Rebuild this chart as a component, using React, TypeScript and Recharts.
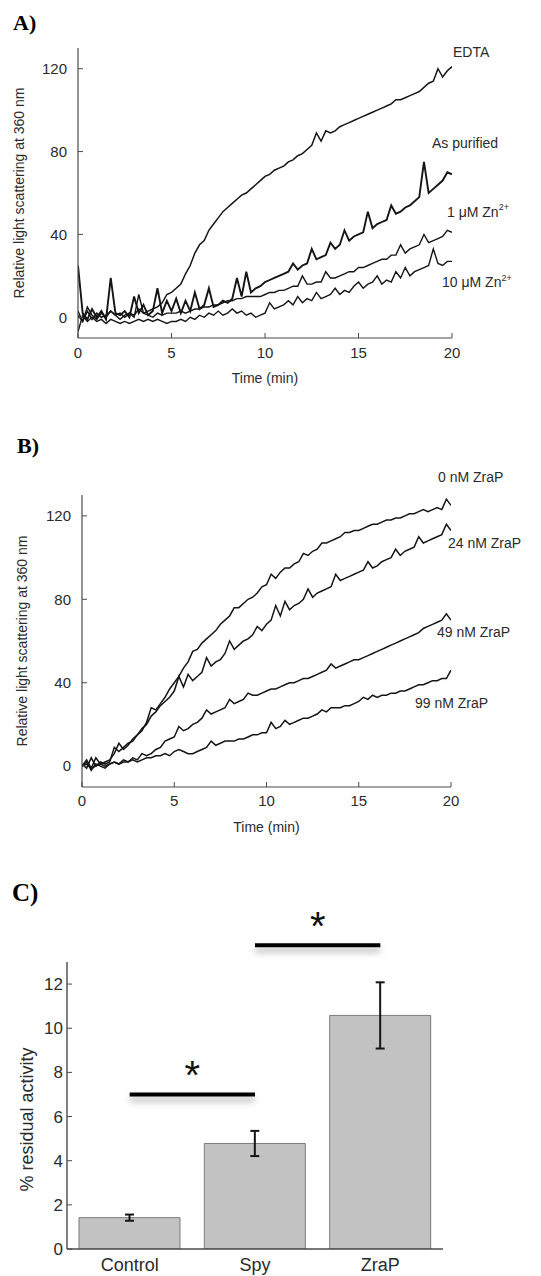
import React from "react";
import {
  LineChart,
  Line,
  XAxis,
  YAxis,
  BarChart,
  Bar,
  ErrorBar,
  ReferenceLine,
  ReferenceDot,
} from "recharts";

const FONT = "'Liberation Sans', Arial, Helvetica, sans-serif";
const SERIF = "'Liberation Serif', 'Times New Roman', serif";
const INK = "#151515";
const AXIS = "#4a4a4a";
const TEXT = "#2b2b2b";

// time axis shared by panels A and B (minutes)
const TIMES = [
  0, 0.25, 0.5, 0.75, 1, 1.25, 1.5, 1.75, 2, 2.25,
  2.5, 2.75, 3, 3.25, 3.5, 3.75, 4, 4.25, 4.5, 4.75,
  5, 5.25, 5.5, 5.75, 6, 6.25, 6.5, 6.75, 7, 7.25,
  7.5, 7.75, 8, 8.25, 8.5, 8.75, 9, 9.25, 9.5, 9.75,
  10, 10.25, 10.5, 10.75, 11, 11.25, 11.5, 11.75, 12, 12.25,
  12.5, 12.75, 13, 13.25, 13.5, 13.75, 14, 14.25, 14.5, 14.75,
  15, 15.25, 15.5, 15.75, 16, 16.25, 16.5, 16.75, 17, 17.25,
  17.5, 17.75, 18, 18.25, 18.5, 18.75, 19, 19.25, 19.5, 19.75,
  20,
];

// panel A
const EDTA = [
  1, -2, 3, -1, 2, 0, 1, 3, 1, 2,
  0, 2, 1, 4, 2, 3, 4, 5, 7, 11,
  12, 14, 16, 21, 25, 31, 35, 37, 42, 45,
  48, 51, 53, 55, 57, 59, 60, 62, 64, 66,
  68, 69, 71, 72, 73, 75, 76, 78, 79, 81,
  83, 89, 85, 90, 89, 90, 92, 93, 94, 95,
  96, 97, 98, 99, 100, 101, 102, 103, 105, 105,
  106, 107, 108, 109, 111, 113, 114, 120, 116, 119,
  121,
];
const AS_PURIFIED = [
  25, 2, -1, 4, 0, 3, -1, 19, 2, 1,
  3, 0, 10, 2, 6, 1, 3, 14, 2, 8,
  3, 9, 2, 8, 3, 12, 4, 6, 14, 5,
  6, 8, 7, 9, 19, 10, 22, 12, 14, 15,
  17, 18, 19, 20, 21, 22, 26, 23, 25, 26,
  33, 28, 29, 30, 36, 33, 35, 42, 37, 39,
  40, 41, 51, 43, 45, 46, 47, 54, 50, 51,
  53, 54, 56, 58, 75, 60, 62, 64, 66, 70,
  69,
];
const ZN_1UM = [
  3, -2, 5, 1, -1, 2, 0, 3, 1, -1,
  1, 2, 0, 11, 2, 1, 0, 2, 1, 2,
  2, 2, 3, 2, 3, 4, 4, 5, 5, 6,
  6, 7, 8, 8, 9, 9, 10, 10, 10, 10,
  11, 12, 12, 13, 13, 14, 15, 15, 20, 16,
  16, 17, 17, 22, 19, 19, 20, 21, 22, 22,
  24, 24, 25, 26, 27, 28, 28, 30, 30, 35,
  31, 33, 34, 35, 40, 36, 37, 38, 39, 42,
  41,
];
const ZN_10UM = [
  -7, 1, -2, 0, -2, -1, -3, -1, -2, -3,
  -2, -3, -2, -1, -2, -1, -2, -1, -2, -3,
  -2, -2, -1, -2, 0, -1, 1, 0, 2, 1,
  3, 1, 2, 4, 2, 3, 1, 2, 0, 1,
  2, 7, 4, 5, 6, 8, 6, 10, 7, 9,
  8, 12, 9, 10, 11, 14, 11, 13, 12, 15,
  17, 14, 16, 17, 20, 16, 18, 17, 22, 19,
  24, 20, 22, 23, 24, 25, 33, 26, 25, 27,
  27,
];

// panel B
const ZRAP_0 = [
  0, 3, -1, 4, 1, 2, 3, 6, 11, 8,
  10, 13, 15, 17, 21, 28, 27, 30, 33, 37,
  40, 43, 47, 50, 55, 56, 59, 61, 63, 65,
  68, 70, 72, 76, 76, 78, 80, 81, 83, 86,
  87, 92, 90, 93, 95, 95, 97, 98, 102, 101,
  103, 104, 107, 107, 108, 109, 110, 112, 112, 113,
  113, 114, 115, 116, 116, 117, 118, 118, 119, 119,
  120, 121, 121, 122, 123, 122, 123, 124, 123, 128,
  125,
];
const ZRAP_24 = [
  1, -1, 4, 0, 2, 1, 2, 9, 7, 9,
  11, 12, 15, 18, 20, 24, 26, 29, 31, 33,
  36, 43, 38, 44, 41, 43, 45, 52, 48, 50,
  51, 54, 60, 56, 58, 60, 61, 63, 67, 65,
  68, 70, 77, 72, 79, 75, 77, 78, 80, 85,
  81, 83, 84, 85, 86, 92, 89, 90, 91, 92,
  93, 94, 98, 95, 96, 98, 99, 100, 104, 101,
  103, 104, 105, 110, 107, 108, 109, 110, 111, 116,
  113,
];
const ZRAP_49 = [
  0, 2, -2, 1, 0, -1, 1, 2, 1, 3,
  2, 4, 3, 6, 5, 6, 8, 9, 12, 13,
  14, 19, 17, 18, 20, 21, 23, 27, 25, 26,
  27, 28, 32, 30, 31, 32, 35, 34, 34, 35,
  36, 37, 37, 38, 39, 40, 40, 41, 42, 42,
  43, 44, 45, 46, 49, 47, 48, 49, 50, 51,
  51, 52, 53, 54, 55, 56, 57, 58, 59, 60,
  61, 62, 63, 64, 66, 67, 68, 69, 70, 73,
  70,
];
const ZRAP_99 = [
  0, 1, -1, 0, 1, 0, 1, 2, 1, 2,
  2, 3, 2, 3, 4, 4, 5, 5, 6, 5,
  7, 8, 7, 6, 6, 7, 8, 9, 12, 10,
  11, 12, 12, 12, 13, 13, 14, 15, 15, 16,
  16, 21, 18, 19, 22, 20, 21, 22, 23, 23,
  24, 25, 27, 26, 28, 28, 28, 29, 29, 30,
  31, 33, 32, 34, 33, 34, 34, 35, 35, 36,
  36, 37, 38, 39, 39, 40, 41, 41, 42, 42,
  46,
];

const TIME_TICKS = [0, 5, 10, 15, 20];
const SCATTER_TICKS = [0, 40, 80, 120];

// panel C
const SAMPLES = ["Control", "Spy", "ZraP"];
const ACTIVITY = [1.42, 4.78, 10.58];
const ACTIVITY_ERR = [0.14, 0.57, 1.5];
const ACTIVITY_TICKS = [0, 2, 4, 6, 8, 10, 12];
const SIG_LEVELS = [7.0, 13.76];

const rowsA = TIMES.map((t, i) => ({
  t,
  edta: EDTA[i],
  purified: AS_PURIFIED[i],
  zn1: ZN_1UM[i],
  zn10: ZN_10UM[i],
}));
const rowsB = TIMES.map((t, i) => ({
  t,
  z0: ZRAP_0[i],
  z24: ZRAP_24[i],
  z49: ZRAP_49[i],
  z99: ZRAP_99[i],
}));
const rowsC = SAMPLES.map((name, i) => ({ name, v: ACTIVITY[i], err: ACTIVITY_ERR[i] }));

function seriesTag(name: string, sup: string, dx: number) {
  return function Tag(props: any) {
    const vb = props.viewBox || {};
    const x = (vb.x || 0) + (vb.width || 0) / 2 + dx;
    const y = (vb.y || 0) + (vb.height || 0) / 2;
    return (
      <text x={x} y={y} dy="0.35em" fontSize={14} fill={TEXT} fontFamily={FONT}>
        {name}
        {sup ? (
          <tspan fontSize={9} dy="-0.7em">
            {sup}
          </tspan>
        ) : null}
      </text>
    );
  };
}

const tickStyle = { fontSize: 15, fill: TEXT, fontFamily: FONT };
const titleStyle = { fontSize: 14, fill: TEXT, fontFamily: FONT };
const sigShadow = { filter: "drop-shadow(0px 5px 3px rgba(0,0,0,0.3))" };

function PanelLetter({ text, top, left, size }: { text: string; top: number; left: number; size: number }) {
  return (
    <div
      style={{
        position: "absolute",
        top,
        left,
        fontFamily: SERIF,
        fontWeight: "bold",
        fontSize: size,
        lineHeight: 1,
        color: "#000",
      }}
    >
      {text}
    </div>
  );
}

export default function App() {
  return (
    <div
      style={{
        position: "absolute",
        left: 0,
        top: 0,
        width: 541,
        height: 1276,
        background: "#fff",
        fontFamily: FONT,
        overflow: "hidden",
      }}
    >
      <PanelLetter text="A)" top={12} left={13} size={22} />
      <PanelLetter text="B)" top={435} left={17} size={22} />
      <PanelLetter text="C)" top={880} left={12} size={25} />

      {/* A: aggregation with zinc */}
      <div style={{ position: "absolute", left: 0, top: 0 }}>
        <LineChart width={541} height={400} data={rowsA} margin={{ top: 48, right: 89, bottom: 0, left: 0 }}>
          <XAxis
            dataKey="t"
            type="number"
            domain={[0, 20]}
            ticks={TIME_TICKS}
            allowDataOverflow
            height={62}
            tickSize={-5}
            tickMargin={14}
            tick={tickStyle}
            axisLine={{ stroke: AXIS, strokeWidth: 1.2 }}
            tickLine={{ stroke: AXIS }}
            label={{ value: "Time (min)", position: "insideBottom", offset: 17, ...titleStyle }}
          />
          <YAxis
            type="number"
            domain={[-10, 130]}
            ticks={SCATTER_TICKS}
            allowDataOverflow
            width={78}
            tickSize={-5}
            tickMargin={16}
            tick={tickStyle}
            axisLine={{ stroke: AXIS, strokeWidth: 1.2 }}
            tickLine={{ stroke: AXIS }}
            label={{
              value: "Relative light scattering at 360 nm",
              angle: -90,
              position: "center",
              dx: -20,
              ...titleStyle,
            }}
          />
          <Line dataKey="zn10" type="linear" stroke={INK} strokeWidth={1.4} dot={false} isAnimationActive={false} />
          <Line dataKey="zn1" type="linear" stroke={INK} strokeWidth={1.4} dot={false} isAnimationActive={false} />
          <Line dataKey="purified" type="linear" stroke={INK} strokeWidth={1.9} dot={false} isAnimationActive={false} />
          <Line dataKey="edta" type="linear" stroke={INK} strokeWidth={1.5} dot={false} isAnimationActive={false} />
          <ReferenceDot x={20} y={128} r={0} fill="none" stroke="none" ifOverflow="visible" label={seriesTag("EDTA", "", 1)} />
          <ReferenceDot x={20} y={84} r={0} fill="none" stroke="none" ifOverflow="visible" label={seriesTag("As purified", "", -20)} />
          <ReferenceDot x={20} y={51} r={0} fill="none" stroke="none" ifOverflow="visible" label={seriesTag("1 \u03bcM Zn", "2+", -5)} />
          <ReferenceDot x={20} y={17} r={0} fill="none" stroke="none" ifOverflow="visible" label={seriesTag("10 \u03bcM Zn", "2+", -10)} />
        </LineChart>
      </div>

      {/* B: ZraP titration */}
      <div style={{ position: "absolute", left: 0, top: 400 }}>
        <LineChart width={541} height={440} data={rowsB} margin={{ top: 95, right: 90, bottom: 0, left: 0 }}>
          <XAxis
            dataKey="t"
            type="number"
            domain={[0, 20]}
            ticks={TIME_TICKS}
            allowDataOverflow
            height={53}
            tickSize={-5}
            tickMargin={13}
            tick={tickStyle}
            axisLine={{ stroke: AXIS, strokeWidth: 1.2 }}
            tickLine={{ stroke: AXIS }}
            label={{ value: "Time (min)", position: "insideBottom", offset: 8, ...titleStyle }}
          />
          <YAxis
            type="number"
            domain={[-10, 130]}
            ticks={SCATTER_TICKS}
            allowDataOverflow
            width={82}
            tickSize={-5}
            tickMargin={16}
            tick={tickStyle}
            axisLine={{ stroke: AXIS, strokeWidth: 1.2 }}
            tickLine={{ stroke: AXIS }}
            label={{
              value: "Relative light scattering at 360 nm",
              angle: -90,
              position: "center",
              dx: -19,
              ...titleStyle,
            }}
          />
          <Line dataKey="z99" type="linear" stroke={INK} strokeWidth={1.5} dot={false} isAnimationActive={false} />
          <Line dataKey="z49" type="linear" stroke={INK} strokeWidth={1.5} dot={false} isAnimationActive={false} />
          <Line dataKey="z24" type="linear" stroke={INK} strokeWidth={1.5} dot={false} isAnimationActive={false} />
          <Line dataKey="z0" type="linear" stroke={INK} strokeWidth={1.5} dot={false} isAnimationActive={false} />
          <ReferenceDot x={20} y={138.6} r={0} fill="none" stroke="none" ifOverflow="visible" label={seriesTag("0 nM ZraP", "", -13)} />
          <ReferenceDot x={20} y={107} r={0} fill="none" stroke="none" ifOverflow="visible" label={seriesTag("24 nM ZraP", "", -3)} />
          <ReferenceDot x={20} y={64.3} r={0} fill="none" stroke="none" ifOverflow="visible" label={seriesTag("49 nM ZraP", "", -14)} />
          <ReferenceDot x={20} y={30.3} r={0} fill="none" stroke="none" ifOverflow="visible" label={seriesTag("99 nM ZraP", "", -36)} />
        </LineChart>
      </div>

      {/* C: residual activity */}
      <div style={{ position: "absolute", left: 0, top: 840 }}>
        <BarChart width={541} height={436} data={rowsC} margin={{ top: 122, right: 98, bottom: 0, left: 0 }} barCategoryGap={12}>
          <XAxis
            dataKey="name"
            height={27}
            tickSize={0}
            tickMargin={9}
            tickLine={false}
            tick={{ fontSize: 18, fill: TEXT, fontFamily: FONT }}
            axisLine={{ stroke: AXIS, strokeWidth: 1.4 }}
          />
          <YAxis
            type="number"
            domain={[0, 13]}
            ticks={ACTIVITY_TICKS}
            allowDataOverflow
            width={67}
            tickSize={-5}
            tickMargin={9}
            tick={{ fontSize: 17, fill: TEXT, fontFamily: FONT }}
            axisLine={{ stroke: AXIS, strokeWidth: 1.4 }}
            tickLine={{ stroke: AXIS }}
            label={{
              value: "% residual activity",
              angle: -90,
              position: "center",
              dx: -7,
              dy: 14,
              fontSize: 18,
              fill: TEXT,
              fontFamily: FONT,
            }}
          />
          <Bar dataKey="v" fill="#c2c2c2" stroke="#7c7c7c" strokeWidth={1} isAnimationActive={false}>
            <ErrorBar dataKey="err" width={4.5} stroke={INK} strokeWidth={2} direction="y" />
          </Bar>
          <ReferenceLine
            segment={[
              { x: SAMPLES[0], y: SIG_LEVELS[0] },
              { x: SAMPLES[1], y: SIG_LEVELS[0] },
            ]}
            position="middle"
            stroke="#000"
            strokeWidth={4}
            ifOverflow="visible"
            style={sigShadow}
            label={{ value: "*", position: "top", offset: 5, fontSize: 40, fill: "#111", fontFamily: FONT }}
          />
          <ReferenceLine
            segment={[
              { x: SAMPLES[1], y: SIG_LEVELS[1] },
              { x: SAMPLES[2], y: SIG_LEVELS[1] },
            ]}
            position="middle"
            stroke="#000"
            strokeWidth={4}
            ifOverflow="visible"
            style={sigShadow}
            label={{ value: "*", position: "top", offset: 5, fontSize: 40, fill: "#111", fontFamily: FONT }}
          />
        </BarChart>
      </div>
    </div>
  );
}
